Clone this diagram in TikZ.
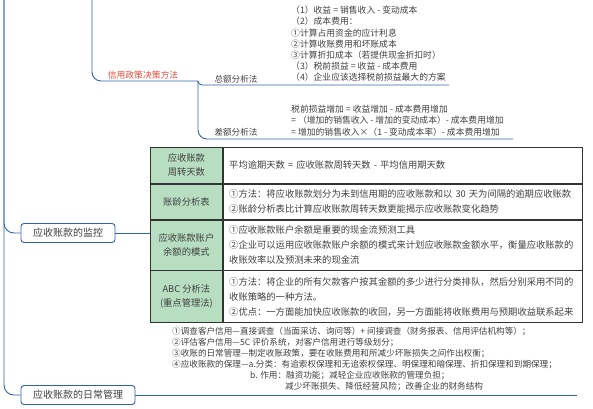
\documentclass[tikz,border=0pt]{standalone}
\usepackage{fontspec}
\setmainfont{Noto Sans CJK SC}
\usepackage{tikz}
\usetikzlibrary{positioning,calc}
\definecolor{ink}{HTML}{404040}
\definecolor{branchblue}{HTML}{2F62AD}
\definecolor{cellgreen}{HTML}{B8DEC2}
\definecolor{policyred}{HTML}{EE4B3E}
\definecolor{rule}{HTML}{333333}
\tikzset{
  topic/.style={draw=branchblue, fill=white, rounded corners=3pt, line width=0.9pt, font=\fontsize{10}{12}\selectfont\color{ink}, inner xsep=12pt, inner ysep=2pt, minimum height=19pt},
  branch/.style={draw=branchblue, line width=0.9pt},
  note/.style={font=\fontsize{8.8}{11.2}\selectfont\color{ink}, align=left, inner sep=0pt},
  tipnote/.style={note, font=\fontsize{8.6}{11}\selectfont\color{ink}},
  method/.style={font=\fontsize{8.6}{10}\selectfont\color{ink}, inner sep=0pt},
  head/.style={draw=rule, fill=cellgreen, line width=0.8pt, minimum width=72pt, font=\fontsize{9.3}{14}\selectfont\color{ink}, align=center, inner sep=0pt},
  body/.style={draw=rule, line width=0.8pt, text width=347pt, font=\fontsize{9.3}{15}\selectfont\color{ink}, align=left, inner xsep=6pt, inner ysep=0pt},
}

\begin{document}
\begin{tikzpicture}[x=1pt, y=-1pt]
    \useasboundingbox (0,0) rectangle (593,408);
    % credit policy branch
    \coordinate (policy top) at (92,0);
    \coordinate (fork) at (198,81);
    \coordinate (gross end) at (449,85);
    \coordinate (diff end) at (513,139);
    \node[font=\fontsize{8.8}{10}\selectfont\color{policyred}, inner sep=0pt] (policy) at (143,75) {信用政策决策方法};
    \draw[branch, rounded corners=9pt] (policy top) |- (fork);
    \draw[branch, rounded corners=4pt] (fork) |- (gross end);
    \draw[branch, rounded corners=9pt] (fork) |- (diff end);
    \node[method] (gross) at (236,79) {总额分析法};
    \node[method] (diff) at (236,132) {差额分析法};
    \node[note, anchor=north west] (gross note) at (291,6) {（1）收益 = 销售收入 - 变动成本\\（2）成本费用：\\①计算占用资金的应计利息\\②计算收账费用和坏账成本\\③计算折扣成本（若提供现金折扣时）\\（3）税前损益 = 收益 - 成本费用\\（4）企业应该选择税前损益最大的方案};
    \node[note, anchor=north west] (diff note) at (291,105) {税前损益增加 = 收益增加 - 成本费用增加\\ = （增加的销售收入 - 增加的变动成本）- 成本费用增加\\ = 增加的销售收入×（1 - 变动成本率）- 成本费用增加};

    % main spine
    \coordinate (spine) at (4,0);
    \node[topic] (watch) at (68,233) {应收账款的监控};
    \node[topic] (daily) at (78,395) {应收账款的日常管理};
    \coordinate (daily end) at (577,395);
    \draw[branch, rounded corners=10pt] (spine) |- (daily.west);
    \draw[branch, rounded corners=10pt] (spine) |- (watch.west);
    \draw[branch] (daily.east) -- (daily end);

    % monitoring table
    \node[head, anchor=north west, minimum height=36pt] (h1) at (150,147) {应收账款\\周转天数};
    \node[head, minimum height=35pt, below=0pt of h1] (h2) {账龄分析表};
    \node[head, minimum height=50pt, below=0pt of h2] (h3) {应收账款账户\\余额的模式};
    \node[head, minimum height=52pt, below=0pt of h3] (h4) {ABC 分析法\\(重点管理法)};
    \node[body, minimum height=36pt, right=0pt of h1] (b1) {平均逾期天数 = 应收账款周转天数 - 平均信用期天数};
    \node[body, minimum height=35pt, right=0pt of h2] (b2) {①方法：将应收账款划分为未到信用期的应收账款和以 30 天为间隔的逾期应收账款\\②账龄分析表比计算应收账款周转天数更能揭示应收账款变化趋势};
    \node[body, minimum height=50pt, right=0pt of h3] (b3) {①应收账款账户余额是重要的现金流预测工具\\②企业可以运用应收账款账户余额的模式来计划应收账款金额水平，衡量应收账款的\\收账效率以及预测未来的现金流};
    \node[body, minimum height=52pt, right=0pt of h4] (b4) {①方法：将企业的所有欠款客户按其金额的多少进行分类排队，然后分别采用不同的\\收账策略的一种方法。\\②优点：一方面能加快应收账款的收回，另一方面能将收账费用与预期收益联系起来};
    \draw[branch] (watch.east) -- (watch.east -| h3.west);

    % daily management notes
    \node[tipnote, anchor=north west] (tips) at (172,327) {①调查客户信用—直接调查（当面采访、询问等）+ 间接调查（财务报表、信用评估机构等）；\\②评估客户信用—5C 评价系统，对客户信用进行等级划分；\\③收账的日常管理—制定收账政策，要在收账费用和所减少坏账损失之间作出权衡；\\④应收账款的保理—a.分类：有追索权保理和无追索权保理、明保理和暗保理、折扣保理和到期保理；\\\hspace*{78pt}b. 作用：融资功能；减轻企业应收账款的管理负担；\\\hspace*{113pt}减少坏账损失、降低经营风险；改善企业的财务结构};
\end{tikzpicture}
\end{document}
